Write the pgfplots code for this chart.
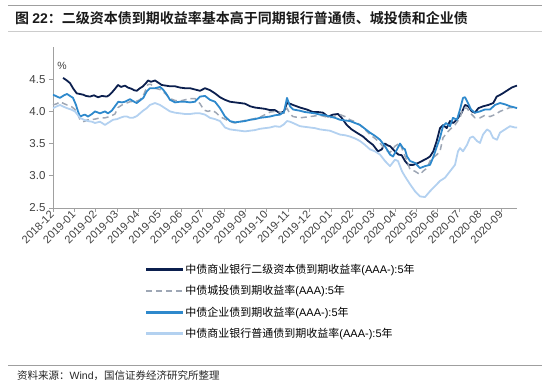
\documentclass[border=0pt]{standalone}
\usepackage{fontspec}
\setmainfont{Liberation Sans}
\newfontfamily\cjk{Noto Sans CJK SC}[BoldFont={Noto Sans CJK SC Bold}]
\usepackage{pgfplots}
\pgfplotsset{compat=1.18}
\definecolor{cDark}{HTML}{0B1F4E}
\definecolor{cGray}{HTML}{9EA7B5}
\definecolor{cBlue}{HTML}{2E89CC}
\definecolor{cLight}{HTML}{B3D1F0}
\definecolor{cAxis}{HTML}{A0A0A0}
\definecolor{cText}{HTML}{404040}
\begin{document}
\begin{tikzpicture}
\useasboundingbox (0pt,0pt) rectangle (550pt,-387pt);
\draw[gray!75, line width=0.9pt] (8pt,-5pt) -- (542pt,-5pt);
\node[anchor=base west, inner sep=0pt, font=\fontsize{14}{16}\selectfont\bfseries, text=black!90] at (15pt,-24pt)
  {{\cjk 图 }22{\cjk ：二级资本债到期收益率基本高于同期银行普通债、城投债和企业债}};
\draw[gray!40, line width=0.6pt] (8pt,-31pt) -- (542pt,-31pt);
\draw[gray!75, line width=0.9pt] (8pt,-365pt) -- (542pt,-365pt);
\node[anchor=base west, inner sep=0pt, font=\fontsize{10.5}{12}\selectfont, text=black!85] at (17pt,-380pt)
  {{\cjk 资料来源：}Wind{\cjk ，国信证券经济研究所整理}};
\begin{axis}[
  at={(53pt,-208pt)}, anchor=south west,
  width=464pt, height=161pt, scale only axis,
  xmin=53, xmax=517, ymin=2.5, ymax=5,
  axis x line=bottom, axis y line=left,
  axis line style={cAxis, line width=0.8pt, -},
  tick style={cAxis, line width=0.6pt}, major tick length=4pt, tick align=outside,
  /pgf/number format/assume math mode=true,
  ytick={2.5,3,3.5,4,4.5},
  yticklabel style={/pgf/number format/.cd, fixed, fixed zerofill, precision=1, /tikz/.cd, font=\fontsize{11.5}{13}\selectfont, text=cText},
  xtick={53,74.37,95.74,117.11,138.48,159.85,181.22,202.59,223.96,245.33,266.70,288.07,309.44,330.81,352.18,373.55,394.92,416.29,437.66,459.03,480.40,501.77},
  xticklabels={2018-12,2019-01,2019-02,2019-03,2019-04,2019-05,2019-06,2019-07,2019-08,2019-09,2019-10,2019-11,2019-12,2020-01,2020-02,2020-03,2020-04,2020-05,2020-06,2020-07,2020-08,2020-09},
  xticklabel style={rotate=45, anchor=east, font=\fontsize{11}{12}\selectfont, text=cText, inner sep=1pt},
  legend style={at={(0.198,-0.342)}, anchor=north west, draw=none, fill=none, inner sep=0pt,
    font=\fontsize{11}{13}\selectfont, row sep=8.5pt, nodes={inner sep=1pt}},
  legend cell align=left,
  legend image code/.code={\draw[#1, line width=2.4pt] (0pt,0pt) -- (37pt,0pt);},
  every axis plot/.append style={line join=round},
]
\addplot[cDark, line width=1.8pt] coordinates {
(63,4.52) (66,4.49) (70,4.44) (73,4.36) (76.7,4.28) (80,4.27) (83,4.26) (86,4.24) (90,4.23) (94,4.25) (98,4.22) (102,4.24) (106.7,4.23) (109,4.25) (111.7,4.29) (115,4.35) (118,4.41) (121,4.38) (125,4.40) (128,4.37) (131.7,4.35) (134,4.33) (136.7,4.32) (140,4.36) (143,4.39) (146,4.44) (148,4.48) (151,4.46) (155,4.48) (158,4.45) (161.7,4.41) (166,4.40) (170,4.39) (175,4.39) (180,4.37) (185,4.36) (190,4.36) (195,4.34) (200,4.32) (205,4.36) (210,4.33) (215,4.28) (220,4.22) (225,4.18) (230,4.15) (235,4.14) (240,4.13) (245,4.12) (250,4.08) (255,4.06) (260,4.05) (265,4.04) (270,4.02) (275,4.02) (280,3.97) (284,4.00) (287,4.13) (290,4.12) (293,4.10) (300,4.06) (306.7,4.03) (313,3.99) (318,3.99) (323,3.98) (328,3.92) (333,3.95) (338,3.96) (341.7,3.90) (346.7,3.79) (351.7,3.72) (356.7,3.67) (363,3.61) (368,3.54) (373,3.48) (378,3.38) (381.7,3.41) (385,3.50) (388,3.47) (390,3.46) (395,3.38) (398.3,3.33) (401.7,3.32) (405,3.23) (408.3,3.17) (413.3,3.17) (418.3,3.20) (423.3,3.24) (427,3.27) (430,3.30) (433.3,3.38) (436.7,3.54) (440,3.74) (443.3,3.79) (446.7,3.74) (450,3.85) (453.3,3.82) (456.7,3.87) (461.7,3.98) (465,4.10) (468.3,4.08) (471.7,4.00) (475,3.98) (478.3,4.05) (483.3,4.08) (488.3,4.10) (493.3,4.13) (496.7,4.23) (501.7,4.27) (506.7,4.32) (511.7,4.37) (515,4.39) (517,4.40)
};
\addlegendentry{{\cjk 中债商业银行二级资本债到期收益率}(AAA-):5{\cjk 年}}
\addplot[cGray, line width=1.5pt, dash pattern=on 6pt off 4pt] coordinates {
(53,4.10) (57,4.12) (60,4.15) (64,4.12) (67,4.10) (71,4.08) (75,4.03) (78,3.95) (80,3.87) (83,3.84) (85,3.85) (88,3.87) (90,3.87) (95,3.88) (100,3.90) (105,3.90) (110,3.92) (115,3.96) (118,4.06) (122,4.10) (125,4.12) (130,4.15) (135,4.15) (140,4.18) (144,4.27) (148,4.42) (151,4.42) (155,4.36) (160,4.34) (165,4.28) (170,4.20) (175,4.17) (180,4.16) (185,4.18) (190,4.20) (195,4.20) (200,4.12) (204,4.02) (208,4.00) (212,4.02) (216,3.98) (220,3.92) (225,3.88) (230,3.84) (235,3.82) (240,3.84) (245,3.86) (250,3.87) (255,3.89) (260,3.91) (265,3.95) (270,3.99) (275,4.00) (280,3.99) (284,3.97) (287,4.05) (290,3.96) (293,3.92) (300,3.90) (305,3.91) (310,3.92) (315,3.93) (320,3.94) (325,3.92) (330,3.90) (335,3.93) (340,3.95) (345,3.92) (350,3.87) (355,3.84) (360,3.79) (365,3.72) (370,3.64) (375,3.58) (380,3.51) (385,3.41) (390,3.36) (395,3.46) (400,3.51) (403,3.38) (407,3.23) (410,3.10) (415,3.07) (420,3.02) (423,3.07) (427,3.12) (430,3.23) (433,3.28) (437,3.33) (440,3.38) (443,3.59) (447,3.67) (450,3.72) (455,3.79) (460,3.90) (463,4.05) (467,4.05) (470,3.98) (475,3.90) (480,3.90) (485,3.94) (490,3.92) (495,3.95) (500,4.00) (505,4.03) (510,4.06) (515,4.06) (517,4.06)
};
\addlegendentry{{\cjk 中债城投债到期收益率}(AAA):5{\cjk 年}}
\addplot[cBlue, line width=1.8pt] coordinates {
(53,4.26) (57,4.23) (60,4.21) (64,4.25) (67,4.27) (70,4.24) (73,4.21) (76,4.10) (78,4.00) (80,3.92) (83,3.94) (85,3.95) (88,3.92) (92,3.96) (95,4.00) (100,3.97) (105,4.00) (108,3.97) (111.7,4.01) (115,4.08) (118.3,4.15) (122,4.14) (125,4.15) (130,4.19) (133,4.16) (136.7,4.13) (140,4.17) (143.3,4.21) (146.7,4.31) (150,4.36) (155,4.36) (160,4.38) (163,4.34) (166,4.28) (170,4.18) (175,4.14) (180,4.15) (185,4.15) (190,4.14) (195,4.15) (200,4.23) (205,4.24) (210,4.18) (215,4.15) (220,4.05) (225,3.92) (230,3.85) (235,3.83) (240,3.84) (245,3.85) (250,3.87) (255,3.88) (260,3.90) (265,3.91) (270,3.92) (275,3.94) (280,3.95) (284,3.99) (287,4.21) (290,4.08) (293,4.03) (300,4.01) (305,3.99) (310,3.98) (315,3.97) (320,3.95) (325,3.94) (330,3.92) (335,3.90) (340,3.87) (345,3.86) (350,3.85) (355,3.82) (360,3.79) (365,3.73) (370,3.67) (375,3.62) (380,3.56) (385,3.46) (390,3.33) (393,3.30) (397,3.41) (400,3.50) (403,3.43) (405,3.41) (407,3.30) (410,3.23) (415,3.20) (420,3.12) (425,3.15) (430,3.17) (433,3.28) (437,3.46) (440,3.59) (443,3.77) (446,3.82) (450,3.77) (453,3.90) (457,3.87) (460,4.03) (463,4.21) (465,4.22) (468,4.13) (471,4.03) (475,3.98) (480,4.00) (485,4.03) (490,4.03) (495,4.10) (500,4.13) (505,4.11) (510,4.08) (515,4.06) (517,4.05)
};
\addlegendentry{{\cjk 中债企业债到期收益率}(AAA-):5{\cjk 年}}
\addplot[cLight, line width=1.8pt] coordinates {
(53,4.05) (57,4.08) (60,4.10) (64,4.07) (67,4.05) (71,4.03) (75,4.00) (78,3.94) (80,3.90) (84,3.87) (88,3.85) (92,3.84) (95,3.82) (100,3.84) (105,3.79) (108,3.82) (113,3.87) (117,3.88) (120,3.90) (124,3.92) (127,3.92) (130,3.90) (133,3.90) (137,3.93) (140,3.97) (143,4.01) (146.7,4.05) (150,4.10) (155,4.13) (160,4.10) (164,4.06) (167,4.03) (170,4.00) (175,3.98) (180,3.97) (185,3.96) (190,3.96) (195,3.97) (200,3.97) (205,3.95) (210,3.90) (215,3.88) (220,3.85) (225,3.75) (230,3.72) (235,3.71) (240,3.70) (245,3.69) (250,3.70) (255,3.71) (260,3.73) (265,3.74) (270,3.75) (275,3.77) (280,3.76) (284,3.80) (287,3.85) (290,3.84) (293,3.82) (300,3.77) (305,3.76) (310,3.75) (315,3.74) (320,3.72) (325,3.71) (330,3.70) (335,3.67) (340,3.64) (345,3.63) (350,3.61) (355,3.58) (360,3.54) (365,3.48) (370,3.41) (375,3.38) (380,3.33) (385,3.23) (390,3.15) (395,3.25) (398,3.23) (402,3.07) (405,2.99) (410,2.87) (415,2.76) (420,2.68) (425,2.67) (430,2.76) (435,2.84) (440,2.92) (445,2.97) (450,3.07) (455,3.17) (458,3.38) (460,3.43) (463,3.38) (467,3.48) (470,3.59) (473,3.61) (477,3.54) (480,3.51) (483,3.64) (487,3.72) (490,3.69) (493,3.59) (497,3.56) (500,3.67) (505,3.72) (510,3.77) (515,3.75) (517,3.75)
};
\addlegendentry{{\cjk 中债商业银行普通债到期收益率}(AAA-):5{\cjk 年}}
\end{axis}
\node[font=\fontsize{10.5}{12}\selectfont, text=cText] at (62pt,-66pt) {\%};
\end{tikzpicture}
\end{document}
